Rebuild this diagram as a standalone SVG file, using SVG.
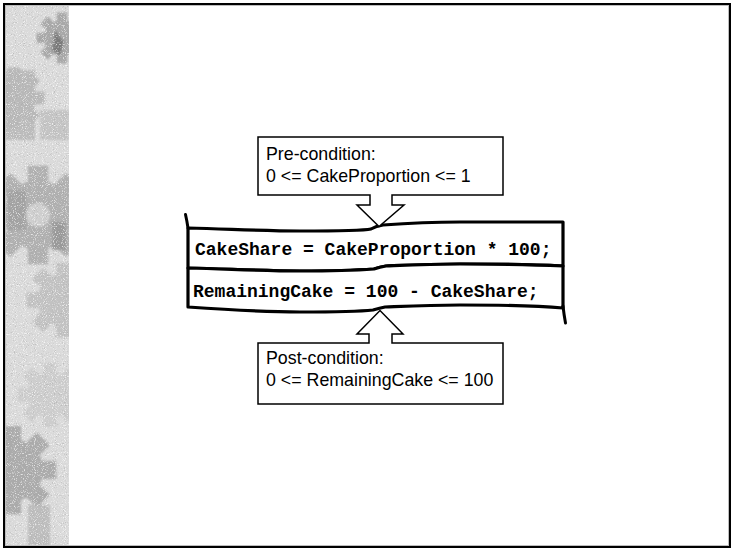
<svg xmlns="http://www.w3.org/2000/svg" width="731" height="549" viewBox="0 0 731 549">
  <style>
    .callout { fill: #ffffff; stroke: #000000; stroke-width: 1.5; stroke-linejoin: miter; }
    .banner { fill: #ffffff; stroke: #000000; stroke-width: 3.2; stroke-linejoin: round; }
    .curl { fill: none; stroke: #000000; stroke-width: 3; stroke-linecap: round; }
    .note { font-family: "Liberation Sans", Arial, sans-serif; font-size: 17.8px; fill: #000000; }
    .code { font-family: "Liberation Mono", "Courier New", monospace; font-size: 18px; font-weight: bold; fill: #000000; }
  </style>
  <defs>
    <g id="gear">
      <circle cx="0" cy="0" r="24"/>
      <rect x="-7" y="-34" width="14" height="68"/>
      <rect x="-7" y="-34" width="14" height="68" transform="rotate(45)"/>
      <rect x="-7" y="-34" width="14" height="68" transform="rotate(90)"/>
      <rect x="-7" y="-34" width="14" height="68" transform="rotate(135)"/>
    </g>
    <clipPath id="stripClip">
      <rect x="5" y="5" width="64" height="541"/>
    </clipPath>
    <filter id="soft" x="-10%" y="-10%" width="120%" height="120%">
      <feGaussianBlur stdDeviation="1.3"/>
    </filter>
    <!-- speckled dark grain -->
    <filter id="grainDark" x="0" y="0" width="100%" height="100%">
      <feTurbulence type="fractalNoise" baseFrequency="0.9" numOctaves="1" seed="7"/>
      <feColorMatrix type="matrix" values="0 0 0 0 0.35  0 0 0 0 0.35  0 0 0 0 0.35  5 0 0 0 -2.9"/>
    </filter>
    <!-- speckled light grain -->
    <filter id="grainLight" x="0" y="0" width="100%" height="100%">
      <feTurbulence type="fractalNoise" baseFrequency="0.9" numOctaves="1" seed="21"/>
      <feColorMatrix type="matrix" values="0 0 0 0 1  0 0 0 0 1  0 0 0 0 1  5 0 0 0 -2.7"/>
    </filter>
  </defs>

  <!-- page background -->
  <rect x="0" y="0" width="731" height="549" fill="#ffffff"/>

  <!-- decorative gear strip on the left -->
  <g id="gear-strip" clip-path="url(#stripClip)">
    <rect x="5" y="5" width="64" height="541" fill="#dadada"/>
    <g filter="url(#soft)">
      <rect x="5" y="70" width="30" height="70" fill="#bcbcbc"/>
      <rect x="40" y="110" width="29" height="30" fill="#c4c4c4"/>
      <use href="#gear" transform="translate(62,38) scale(0.75)" fill="#a8a8a8"/>
      <use href="#gear" transform="translate(14,98) scale(0.9)" fill="#b8b8b8"/>
      <use href="#gear" transform="translate(38,215) scale(1.45)" fill="#b0b0b0"/>
      <use href="#gear" transform="translate(64,300) scale(1.1)" fill="#c2c2c2"/>
      <use href="#gear" transform="translate(50,395) scale(0.95)" fill="#cdcdcd"/>
      <use href="#gear" transform="translate(12,470) scale(1.3)" fill="#ababab"/>
      <circle cx="38" cy="215" r="12" fill="#cfcfcf"/>
      <rect x="52" y="222" width="14" height="28" fill="#999999"/>
      <rect x="8" y="190" width="18" height="40" fill="#a2a2a2"/>
      <path d="M55,30 L64,42 L60,56 L52,50 Z" fill="#7a7a7a"/>
      <rect x="28" y="505" width="22" height="41" fill="#bdbdbd"/>
    </g>
    <rect x="5" y="5" width="64" height="541" fill="#000000" filter="url(#grainDark)" opacity="0.5"/>
    <rect x="5" y="5" width="64" height="541" fill="#ffffff" filter="url(#grainLight)" opacity="0.7"/>
  </g>

  <!-- slide frame -->
  <rect x="5.5" y="5.5" width="723" height="540" fill="none" stroke="#bdbdbd" stroke-width="1"/>
  <rect x="4" y="4" width="726" height="543" fill="none" stroke="#000000" stroke-width="2"/>

  <!-- first statement banner -->
  <g id="stmt-cakeshare">
    <path class="banner" d="M188,228 C230,229 260,231 300,231 C340,231 362,231 371,229 Q376,226 383,225 C410,223 430,222 460,222 C510,222 540,222 563,222 L563,266 C540,265 510,264 460,264 C430,264 410,265 386,266 Q380,267 374,269 C360,270 330,271 300,271 C260,271 230,269 188,268 Z"/>
    <path class="curl" d="M188,228 Q187,221 185.5,214.5"/>
    <text class="code" x="195" y="255">CakeShare = CakeProportion * 100;</text>
  </g>

  <!-- second statement banner -->
  <g id="stmt-remaining">
    <path class="banner" d="M188,268 C230,269 260,271 300,271 C330,271 360,270 374,269 Q380,267 386,266 C410,265 430,264 460,264 C510,264 540,265 563,266 L563,308 C540,306 510,305 460,305 C430,305 410,306 385,307 Q380,308 373,310 C355,312 330,312 300,312 C260,312 230,310 188,307 Z"/>
    <path class="curl" d="M563,306 Q564,315 565.5,323"/>
    <text class="code" x="193" y="297">RemainingCake = 100 - CakeShare;</text>
  </g>

  <!-- pre-condition callout -->
  <g id="pre-condition">
    <path class="callout" d="M258,137 H503 V195 H392 V205 H404 L379,226.5 L357,205 H370 V195 H258 Z"/>
    <text class="note" x="266" y="160">Pre-condition:</text>
    <text class="note" x="266" y="182">0 &lt;= CakeProportion &lt;= 1</text>
  </g>

  <!-- post-condition callout -->
  <g id="post-condition">
    <path class="callout" d="M258,343 H369 V334 H357 L380,310.5 L403,334 H392 V343 H503 V404 H258 Z"/>
    <text class="note" x="266" y="364">Post-condition:</text>
    <text class="note" x="266" y="386">0 &lt;= RemainingCake &lt;= 100</text>
  </g>
</svg>
